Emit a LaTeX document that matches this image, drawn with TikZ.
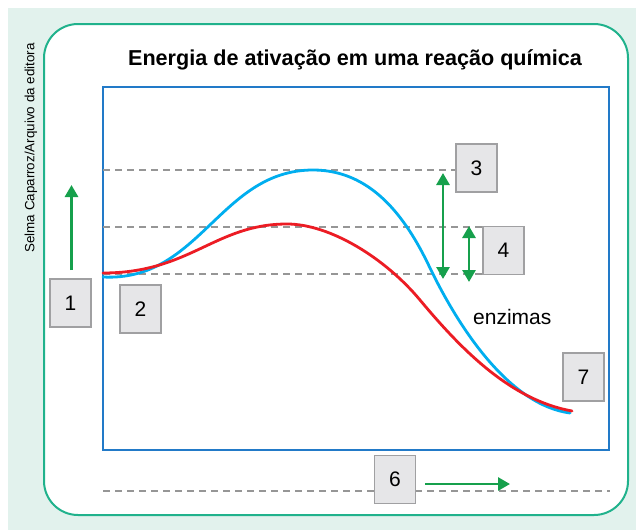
\documentclass[tikz,border=0pt]{standalone}
\usepackage{fontspec}
\setmainfont{Liberation Sans}
\usetikzlibrary{arrows.meta}
\definecolor{mint}{RGB}{226,242,237}
\definecolor{framegreen}{RGB}{32,178,140}
\definecolor{frameblue}{RGB}{34,122,200}
\definecolor{curvecyan}{RGB}{0,174,239}
\definecolor{curvered}{RGB}{236,28,36}
\definecolor{arrowgreen}{RGB}{22,160,76}
\definecolor{boxfill}{RGB}{230,230,232}
\definecolor{boxline}{RGB}{160,160,162}
\definecolor{dashgray}{RGB}{150,150,150}
\begin{document}
\begin{tikzpicture}[x=1pt,y=-1pt,
  numbox/.style={draw=boxline,fill=boxfill,line width=1.4pt,minimum width=41pt,minimum height=48pt,inner sep=0pt,font=\fontsize{21}{21}\selectfont},
  guide/.style={draw=dashgray,line width=1.3pt,dash pattern=on 7pt off 5pt},
  curve/.style={line width=2.8pt,line cap=round,line join=round},
  grarrow/.style={draw=arrowgreen,line width=2.8pt,-{Triangle[width=13pt,length=12pt]}},
  grdouble/.style={draw=arrowgreen,line width=2.8pt,{Triangle[width=13pt,length=12pt]}-{Triangle[width=13pt,length=12pt]}}]
\useasboundingbox (0,0) rectangle (636,530);
\fill[white] (0,0) rectangle (636,530);
\fill[mint] (8,8) rectangle (636,530);
% outer rounded frame
\draw[framegreen,line width=2pt,fill=white,rounded corners=34pt] (44,24) rectangle (628,515);
% plot frame
\draw[frameblue,line width=1.8pt] (103,87) rectangle (609,450);
% title and credit
\node[font=\fontsize{21.6}{21.6}\selectfont\bfseries] (title) at (355,60) {Energia de ativação em uma reação química};
\node[font=\fontsize{13.4}{13.4}\selectfont,rotate=90] (credit) at (31,148) {Selma Caparroz/Arquivo da editora};
% boxes
\node[numbox] (b1) at (70.5,303) {1};
\node[numbox] (b2) at (140.5,309) {2};
\node[numbox] (b3) at (476.5,168) {3};
\node[numbox] (b4) at (503.5,250.5) {4};
\node[numbox] (b7) at (583.5,377) {7};
% dashed guides
\coordinate (g1) at (103,170);
\coordinate (g2) at (103,227);
\coordinate (g3) at (103,274);
\coordinate (g4) at (103,491);
\coordinate (g4e) at (610,491);
\draw[guide] (g1) -- (b3.west |- g1);
\draw[guide] (g2) -- (b4.west |- g2);
\draw[guide] (g3) -- (b4.west |- g3);
\draw[guide] (g4) -- (g4e);
\node[numbox] (b6) at (395,479.5) {6};
% curves
\draw[curve,curvecyan] (103,277) .. controls (200,282) and (220,170) .. (313,170)
  .. controls (370,170) and (405,215) .. (430,268)
  .. controls (460,330) and (510,405) .. (570,413);
\draw[curve,curvered] (103,273) .. controls (190,273) and (215,224) .. (287,224)
  .. controls (330,224) and (385,258) .. (420,300)
  .. controls (460,348) and (510,400) .. (572,411);
% arrows
\coordinate (a1s) at (71.5,270);
\coordinate (a1e) at (71.5,185);
\draw[grarrow] (a1s) -- (a1e);
\coordinate (a3s) at (443,173);
\coordinate (a3e) at (443,279);
\draw[grdouble] (a3s) -- (a3e);
\coordinate (a4s) at (469,226);
\coordinate (a4e) at (469,282);
\draw[grdouble] (a4s) -- (a4e);
\coordinate (a6e) at (510,484);
\draw[grarrow] (b6.east |- a6e) ++(9,0) -- (a6e);
% label
\node[font=\fontsize{21}{21}\selectfont,anchor=base west,inner sep=0pt] (enz) at (473,324) {enzimas};
\end{tikzpicture}
\end{document}
